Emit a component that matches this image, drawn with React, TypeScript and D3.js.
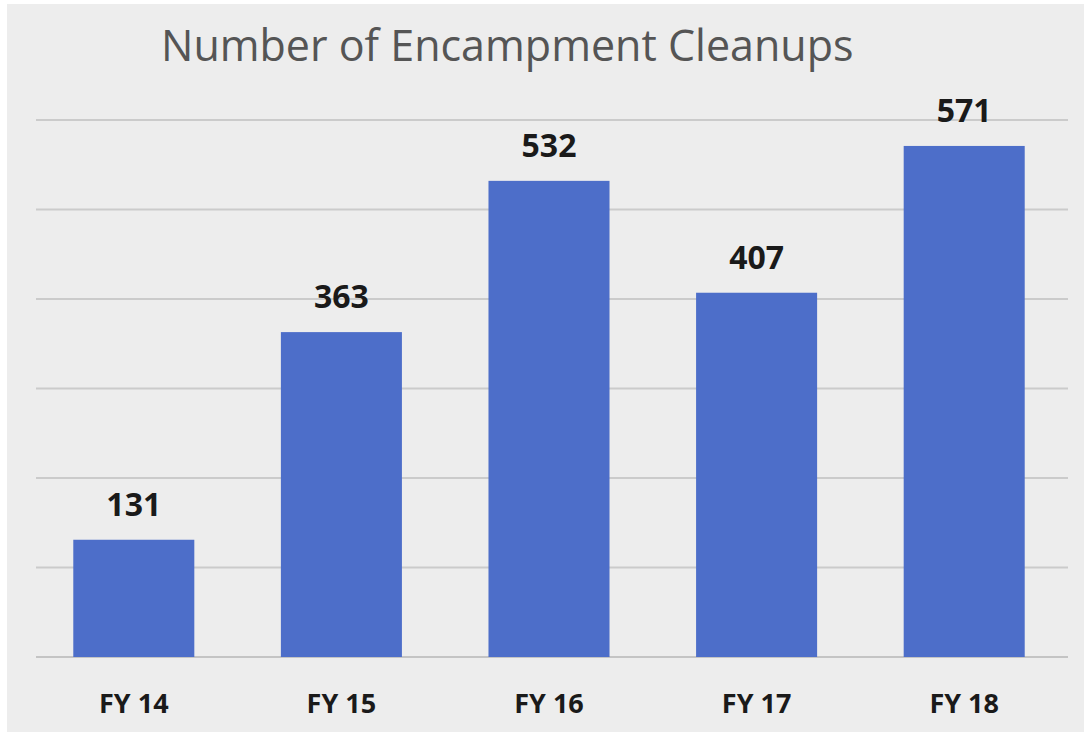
import React from "react";
import * as d3 from "d3";

const categories = ["FY 14", "FY 15", "FY 16", "FY 17", "FY 18"];
const cleanups = [131, 363, 532, 407, 571];
const gridTicks = [0, 100, 200, 300, 400, 500, 600];
const title = "Number of Encampment Cleanups";

const W = 1084;
const H = 732;

export default function App() {
  const margin = { top: 120, bottom: 75, left: 30, right: 16 };
  const baseY = H - margin.bottom;

  const x = d3
    .scaleBand<string>()
    .domain(categories)
    .range([margin.left, W - margin.right])
    .paddingInner(0.417)
    .paddingOuter(0.2085);

  const y = d3
    .scaleLinear()
    .domain([0, 600])
    .range([baseY, baseY - 537]);

  const barColor = "#4d6ec9";

  return (
    <div style={{ position: "absolute", left: 0, top: 0 }}>
      <svg width={W} height={H} style={{ display: "block" }}>
        <rect x={0} y={0} width={W} height={H} fill="#ffffff" />
        <rect x={7} y={4} width={W - 7} height={H - 4} fill="#ededed" />

        {/* title */}
        <text
          x={161}
          y={61}
          fontFamily="'Open Sans', sans-serif"
          fontSize={43}
          fill="#555555"
        >
          {title}
        </text>

        {/* gridlines */}
        {gridTicks.map((t) => (
          <line
            key={t}
            x1={36}
            x2={1068}
            y1={y(t)}
            y2={y(t)}
            stroke={t === 0 ? "#c4c4c4" : "#cbcbcb"}
            strokeWidth={2}
          />
        ))}

        {/* bars */}
        {categories.map((c, i) => (
          <rect
            key={c}
            x={x(c)}
            y={y(cleanups[i])}
            width={x.bandwidth()}
            height={baseY - y(cleanups[i])}
            fill={barColor}
          />
        ))}

        {/* value labels */}
        {categories.map((c, i) => (
          <text
            key={c}
            x={(x(c) ?? 0) + x.bandwidth() / 2}
            y={y(cleanups[i]) - 24}
            textAnchor="middle"
            fontFamily="'Open Sans', sans-serif"
            fontWeight="bold"
            fontSize={32}
            fill="#1a1a1a"
          >
            {cleanups[i]}
          </text>
        ))}

        {/* category labels */}
        {categories.map((c) => (
          <text
            key={c}
            x={(x(c) ?? 0) + x.bandwidth() / 2}
            y={713}
            textAnchor="middle"
            fontFamily="'Open Sans', sans-serif"
            fontWeight="bold"
            fontSize={27}
            fill="#1a1a1a"
          >
            {c}
          </text>
        ))}
      </svg>
    </div>
  );
}
